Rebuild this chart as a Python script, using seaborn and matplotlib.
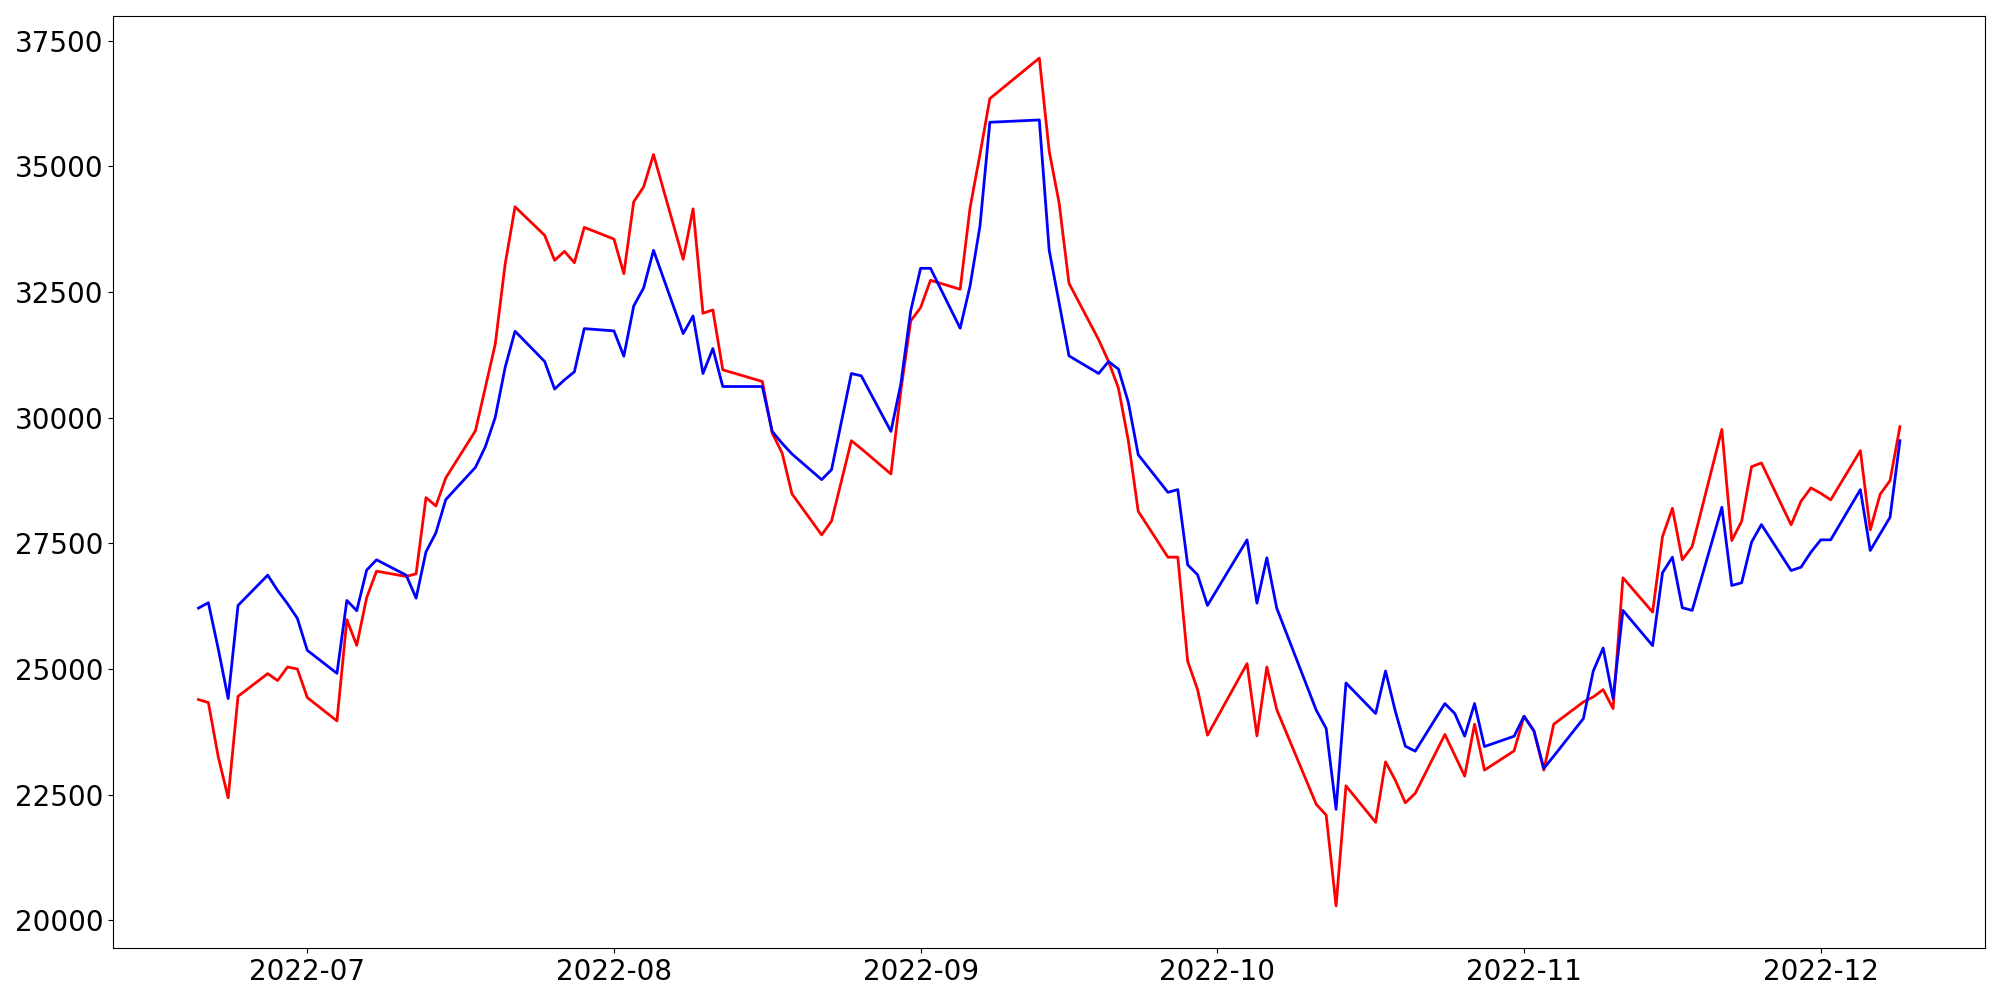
import matplotlib
matplotlib.use("Agg")
import matplotlib.pyplot as plt
import seaborn as sns
import pandas as pd

dates = [
    "2022-06-20", "2022-06-21", "2022-06-22", "2022-06-23", "2022-06-24",
    "2022-06-27", "2022-06-28", "2022-06-29", "2022-06-30", "2022-07-01",
    "2022-07-04", "2022-07-05", "2022-07-06", "2022-07-07", "2022-07-08",
    "2022-07-11", "2022-07-12", "2022-07-13", "2022-07-14", "2022-07-15",
    "2022-07-18", "2022-07-19", "2022-07-20", "2022-07-21", "2022-07-22",
    "2022-07-25", "2022-07-26", "2022-07-27", "2022-07-28", "2022-07-29",
    "2022-08-01", "2022-08-02", "2022-08-03", "2022-08-04", "2022-08-05",
    "2022-08-08", "2022-08-09", "2022-08-10", "2022-08-11", "2022-08-12",
    "2022-08-16", "2022-08-17", "2022-08-18", "2022-08-19",
    "2022-08-22", "2022-08-23", "2022-08-25", "2022-08-26",
    "2022-08-29", "2022-08-30", "2022-08-31", "2022-09-01", "2022-09-02",
    "2022-09-05", "2022-09-06", "2022-09-07", "2022-09-08",
    "2022-09-13", "2022-09-14", "2022-09-15", "2022-09-16",
    "2022-09-19", "2022-09-20", "2022-09-21", "2022-09-22", "2022-09-23",
    "2022-09-26", "2022-09-27", "2022-09-28", "2022-09-29", "2022-09-30",
    "2022-10-04", "2022-10-05", "2022-10-06", "2022-10-07",
    "2022-10-11", "2022-10-12", "2022-10-13", "2022-10-14",
    "2022-10-17", "2022-10-18", "2022-10-19", "2022-10-20", "2022-10-21",
    "2022-10-24", "2022-10-25", "2022-10-26", "2022-10-27", "2022-10-28",
    "2022-10-31", "2022-11-01", "2022-11-02", "2022-11-03", "2022-11-04",
    "2022-11-07", "2022-11-08", "2022-11-09", "2022-11-10", "2022-11-11",
    "2022-11-14", "2022-11-15", "2022-11-16", "2022-11-17", "2022-11-18",
    "2022-11-21", "2022-11-22", "2022-11-23", "2022-11-24", "2022-11-25",
    "2022-11-28", "2022-11-29", "2022-11-30", "2022-12-01", "2022-12-02",
    "2022-12-05", "2022-12-06", "2022-12-07", "2022-12-08", "2022-12-09",
]

red_values = [
    24390, 24330, 23250, 22435, 24455,
    24906, 24767, 25038, 24998, 24430,
    23965, 25979, 25469, 26416, 26945,
    26839, 26893, 28408, 28243, 28800,
    29739, 30600, 31461, 33050, 34195,
    33627, 33130, 33309, 33082, 33786,
    33553, 32865, 34295, 34590, 35236,
    33150, 34155, 32077, 32143, 30951,
    30719, 29693, 29296, 28482,
    27666, 27944, 29541, 29382,
    28879, 30533, 31924, 32188, 32733,
    32554, 34175, 35236, 36348,
    37154, 35301, 34274, 32673,
    31550, 31116, 30587, 29541, 28136,
    27223, 27223, 25151, 24588, 23681,
    25105, 23667, 25038, 24191,
    22304, 22092, 20284, 22674,
    21947, 23150, 22780, 22336, 22523,
    23695, 23283, 22866, 23899, 22986,
    23369, 24058, 23767, 22986, 23899,
    24342, 24442, 24588, 24211, 26813,
    26130, 27634, 28196, 27171, 27435,
    29765, 27554, 27938, 29024, 29098,
    27866, 28335, 28601, 28494, 28363,
    29342, 27767, 28474, 28746, 29819,
]

blue_values = [
    26210, 26317, 25400, 24410, 26263,
    26865, 26561, 26297, 26005, 25369,
    24912, 26362, 26158, 26965, 27171,
    26865, 26408, 27330, 27707, 28369,
    29011, 29421, 30004, 30997, 31720,
    31116, 30568, 30752, 30911, 31771,
    31726, 31222, 32222, 32580, 33329,
    31672, 32023, 30878, 31374, 30619,
    30619, 29726, 29488, 29276,
    28766, 28965, 30878, 30832,
    29726, 30667, 32123, 32971, 32971,
    31779, 32620, 33811, 35877,
    35923, 33329, 32288, 31229,
    30878, 31116, 30965, 30302, 29262,
    28514, 28567, 27071, 26873, 26263,
    27568, 26309, 27211, 26210,
    24177, 23814, 22205, 24720,
    24112, 24958, 24150, 23462, 23363,
    24310, 24112, 23661, 24310, 23455,
    23661, 24058, 23767, 23019, 23264,
    24012, 24958, 25415, 24410, 26164,
    25463, 26913, 27223, 26217, 26164,
    28216, 26660, 26714, 27521, 27872,
    26958, 27024, 27322, 27568, 27568,
    28567, 27356, 27687, 28017, 29541,
]

df = pd.DataFrame({
    "date": pd.to_datetime(dates),
    "red": red_values,
    "blue": blue_values,
})

fig, ax = plt.subplots(figsize=(20, 10), dpi=100)
fig.subplots_adjust(left=0.0567, right=0.9925, top=0.9843, bottom=0.0517)

sns.lineplot(data=df, x="date", y="red", color="red", linewidth=2, ax=ax, legend=False)
sns.lineplot(data=df, x="date", y="blue", color="blue", linewidth=2, ax=ax, legend=False)

ax.set_xlabel("")
ax.set_ylabel("")
ax.tick_params(axis="both", labelsize=20)

fig.savefig("out.png", dpi=100)
